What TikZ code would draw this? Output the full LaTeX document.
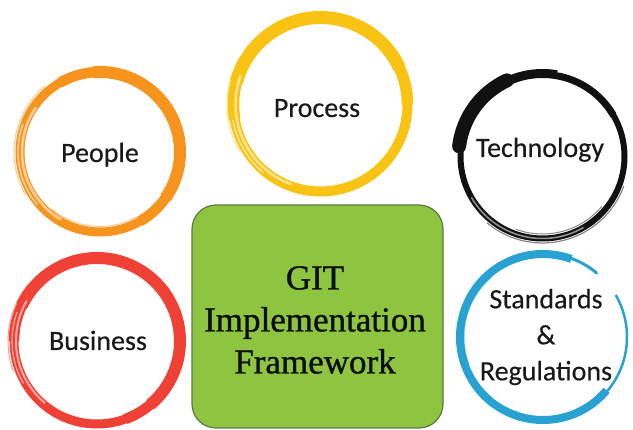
\documentclass[tikz,border=0pt]{standalone}
\usepackage{fontspec}
\setmainfont{Liberation Serif}
\newfontfamily\gitserif[FakeBold=0.9]{Liberation Serif}
\newfontfamily\calib[FakeBold=0.3]{Carlito}
\definecolor{ppl}{HTML}{F7941D}
\definecolor{prc}{HTML}{F9C313}
\definecolor{tec}{HTML}{111111}
\definecolor{bus}{HTML}{EF4136}
\definecolor{std}{HTML}{27A2D3}
\definecolor{gitfill}{HTML}{8DC540}
\definecolor{gitline}{HTML}{5B7B44}
% one brush arc: centre, radius, start, end, width, extra style
\newcommand\brusharc[6]{%
  \draw[line width=#5pt,#6] ([shift={(#3:#2)}]#1) arc[start angle=#3,end angle=#4,radius=#2];}
\begin{document}
\begin{tikzpicture}[x=1pt,y=-1pt,
  lbl/.style={font=\calib\fontsize{28}{36}\selectfont, text=black!90, inner sep=0pt, align=center},
  gitbox/.style={draw=gitline, fill=gitfill, line width=1.2pt, rounded corners=24pt,
                 minimum width=251pt, minimum height=223pt},
  gittxt/.style={font=\gitserif\fontsize{35}{42}\selectfont, text=black!95, inner sep=0pt, align=center},
  streak/.style={white, opacity=.55},
  bristle/.style={opacity=.5}]
\useasboundingbox (0,0) rectangle (633,430);
\fill[white] (0,0) rectangle (633,430);

% ---- People (orange)
\coordinate (cpeople) at (100,152);
\draw[ppl, line width=9pt] (cpeople) circle (80);
\brusharc{cpeople}{80}{-120}{60}{10.5}{ppl}
\brusharc{cpeople}{80}{-95}{35}{12}{ppl}
\brusharc{cpeople}{78}{120}{215}{2.5}{streak}
\brusharc{cpeople}{82}{140}{200}{1.5}{streak}
\brusharc{cpeople}{86}{150}{230}{1}{ppl,bristle}
\brusharc{cpeople}{74.5}{60}{130}{1}{ppl,bristle}
\node[lbl, anchor=base] (people) at (100,162) {People};

% ---- Process (yellow)
\coordinate (cprocess) at (320.5,104.5);
\draw[prc, line width=10pt] (cprocess) circle (87);
\brusharc{cprocess}{87}{-190}{0}{11.5}{prc}
\brusharc{cprocess}{87}{-165}{-25}{13}{prc}
\brusharc{cprocess}{85}{110}{200}{2.5}{streak}
\brusharc{cprocess}{89}{130}{170}{1.5}{streak}
\brusharc{cprocess}{93.5}{150}{210}{1}{prc,bristle}
\node[lbl, anchor=base] (process) at (317,117) {Process};

% ---- Technology (black)
\coordinate (ctech) at (542.5,156.5);
\draw[tec, line width=6pt] (ctech) circle (82);
\brusharc{ctech}{84}{187}{245}{14}{tec,line cap=round}
\brusharc{ctech}{83}{245}{280}{9}{tec}
\brusharc{ctech}{82}{280}{330}{7}{tec}
\brusharc{ctech}{86.5}{20}{130}{1.2}{tec,bristle}
\brusharc{ctech}{77.5}{40}{110}{1}{tec,bristle}
\brusharc{ctech}{82}{60}{150}{1.5}{streak}
\node[lbl, anchor=base] (technology) at (540,157) {Technology};

% ---- Business (red)
\coordinate (cbusiness) at (97,341);
\draw[bus, line width=9pt] (cbusiness) circle (83);
\brusharc{cbusiness}{83}{-180}{70}{10.5}{bus}
\brusharc{cbusiness}{83}{-155}{50}{12}{bus}
\brusharc{cbusiness}{81}{130}{210}{2}{streak}
\brusharc{cbusiness}{85}{150}{200}{1.2}{streak}
\brusharc{cbusiness}{89}{160}{220}{1}{bus,bristle}
\node[lbl, anchor=base] (business) at (98,350) {Business};

% ---- Standards & Regulations (blue, open ring)
\coordinate (cstd) at (543,337);
\brusharc{cstd}{83}{-70}{-320}{8}{std}
\brusharc{cstd}{83.5}{-50}{-70}{3}{std,line cap=round}
\brusharc{cstd}{84}{-30}{40}{2.5}{std}
\brusharc{cstd}{79}{160}{230}{1}{std,bristle}
\node[lbl] (standards) at (546,337) {Standards\\\&\\Regulations};

% ---- central box
\node[gitbox] (git) at (317.5,316.5) {};
\node[gittxt] (gittext) at (315,320) {GIT\\Implementation\\Framework};
\end{tikzpicture}
\end{document}
